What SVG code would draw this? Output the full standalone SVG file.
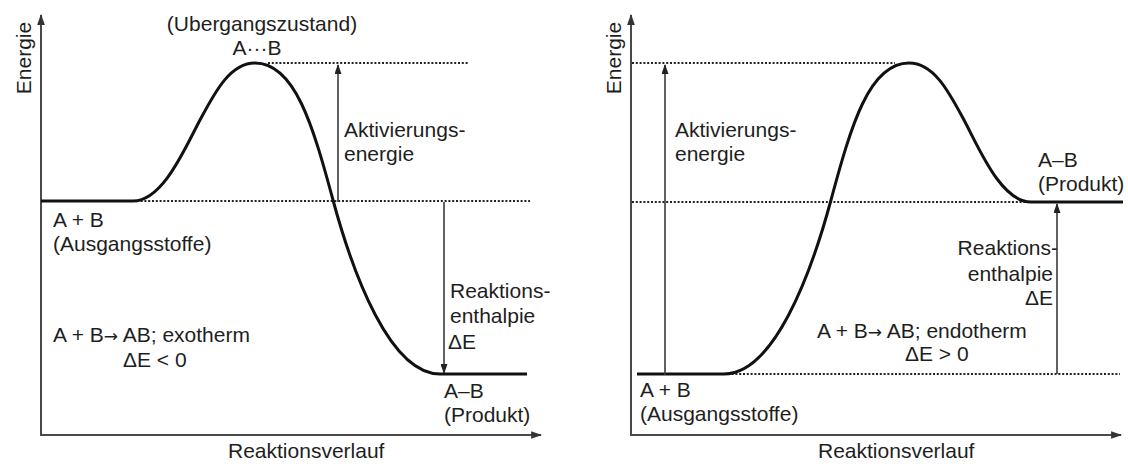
<svg xmlns="http://www.w3.org/2000/svg" width="1128" height="464" viewBox="0 0 1128 464">
<defs>
<style>
.t{font-family:"Liberation Sans",Arial,sans-serif;font-size:21px;fill:#1e1e1e}
.ar{font-family:"DejaVu Sans",sans-serif;font-size:17px}
.ax{stroke:#4a4a4a;stroke-width:2;fill:none}
.cur{stroke:#111;stroke-width:3;fill:none;stroke-linecap:butt}
.dot{stroke:#222;stroke-width:1.8;stroke-dasharray:2 1.8;fill:none}
.arr{stroke:#3a3a3a;stroke-width:1.6;fill:none}
</style>
<marker id="ah" viewBox="0 0 10 7" refX="9" refY="3.5" markerWidth="10" markerHeight="7" markerUnits="userSpaceOnUse" orient="auto">
<path d="M0,0 L10,3.5 L0,7 z" fill="#222"/>
</marker>
<marker id="axh" viewBox="0 0 10 7" refX="9" refY="3.5" markerWidth="11" markerHeight="8" markerUnits="userSpaceOnUse" orient="auto">
<path d="M0,0 L10,3.5 L0,7 z" fill="#333"/>
</marker>
</defs>
<rect width="1128" height="464" fill="#fff"/>

<g id="left-panel">
<g id="left-axes">
<path class="ax" d="M41,435 V15" marker-end="url(#axh)"/>
<path class="ax" d="M40,435 H541" marker-end="url(#axh)"/>
<text class="t" transform="translate(31,58) rotate(-90)" text-anchor="middle">Energie</text>
<text class="t" x="228" y="458">Reaktionsverlauf</text>
</g>
<g id="left-levels">
<path class="dot" d="M268,63 H468"/>
<path class="dot" d="M133,201 H530"/>
</g>
<g id="left-curve">
<path class="cur" d="M41,201 H133 C163,201 185,148 200,120 C215,92 230,63 255,63 C295,63 313,126 333,200 C353,274 390,374 440,374 H527"/>
</g>
<g id="left-transition">
<text class="t" x="262" y="31" text-anchor="middle">(Ubergangszustand)</text>
<text class="t" x="257" y="55" text-anchor="middle">A···B</text>
</g>
<g id="left-reactants">
<text class="t" x="53" y="227">A + B</text>
<text class="t" x="53" y="251">(Ausgangsstoffe)</text>
</g>
<g id="left-product">
<text class="t" x="444" y="398">A–B</text>
<text class="t" x="444" y="422">(Produkt)</text>
</g>
<g id="left-activation">
<text class="t" x="344" y="137">Aktivierungs-</text>
<text class="t" x="344" y="161">energie</text>
</g>
<g id="left-enthalpy">
<text class="t" x="450" y="298">Reaktions-</text>
<text class="t" x="450" y="323">enthalpie</text>
<text class="t" x="448" y="349">ΔE</text>
</g>
<g id="left-equation">
<text class="t" x="53" y="342">A + B<tspan class="ar">→</tspan> AB; exotherm</text>
<text class="t" x="123" y="367">ΔE &lt; 0</text>
</g>
</g>

<g id="right-panel">
<g id="right-axes">
<path class="ax" d="M631,435 V15" marker-end="url(#axh)"/>
<path class="ax" d="M630,435 H1121" marker-end="url(#axh)"/>
<text class="t" transform="translate(621,58) rotate(-90)" text-anchor="middle">Energie</text>
<text class="t" x="818" y="458">Reaktionsverlauf</text>
</g>
<g id="right-levels">
<path class="dot" d="M632,63 H895"/>
<path class="dot" d="M632,202 H1031"/>
<path class="dot" d="M724,374 H1120"/>
</g>
<g id="right-curve">
<path class="cur" d="M637,374 H724 C774,374 811,274 831,200 C851,126 869,63 909,63 C934,63 949,92 964,120 C979,148 1001,202 1031,202 H1123"/>
</g>
<g id="right-reactants">
<text class="t" x="640" y="397">A + B</text>
<text class="t" x="640" y="421">(Ausgangsstoffe)</text>
</g>
<g id="right-product">
<text class="t" x="1038" y="167">A–B</text>
<text class="t" x="1038" y="191">(Produkt)</text>
</g>
<g id="right-activation">
<text class="t" x="675" y="137">Aktivierungs-</text>
<text class="t" x="675" y="161">energie</text>
</g>
<g id="right-enthalpy">
<text class="t" x="1058" y="255" text-anchor="end">Reaktions-</text>
<text class="t" x="1053" y="281" text-anchor="end">enthalpie</text>
<text class="t" x="1053" y="305" text-anchor="end">ΔE</text>
</g>
<g id="right-equation">
<text class="t" x="817" y="338">A + B<tspan class="ar">→</tspan> AB; endotherm</text>
<text class="t" x="905" y="361">ΔE &gt; 0</text>
</g>
</g>

<g id="connectors">
<path class="arr" d="M338,202 V65" marker-end="url(#ah)"/>
<path class="arr" d="M444,202 V373" marker-end="url(#ah)"/>
<path class="arr" d="M665,375 V65" marker-end="url(#ah)"/>
<path class="arr" d="M1057,374 V204" marker-end="url(#ah)"/>
</g>
</svg>
